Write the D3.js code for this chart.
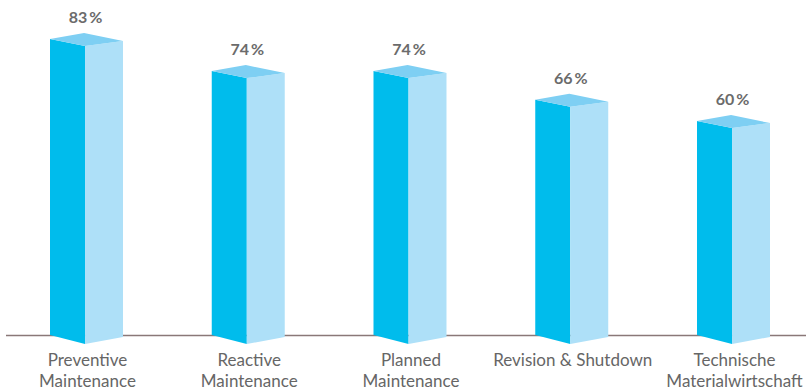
<!DOCTYPE html>
<html>
<head>
<meta charset="utf-8">
<script src="https://cdn.jsdelivr.net/npm/d3@7"></script>
<style>
  html, body { margin: 0; padding: 0; background: #fff; }
  svg { display: block; }
</style>
</head>
<body>
<svg id="chart" width="806" height="390"></svg>
<script>
// Share of respondents per maintenance area
const categories = [
  ["Preventive", "Maintenance"],
  ["Reactive", "Maintenance"],
  ["Planned", "Maintenance"],
  ["Revision & Shutdown"],
  ["Technische", "Materialwirtschaft"]
];
const values = [83, 74, 74, 66, 60];

const svg = d3.select("#chart");
const W = 806, H = 390;
const baseY = 335;

const x = d3.scaleBand()
  .domain(d3.range(categories.length))
  .range([50, 770])
  .paddingInner(0.5487)
  .paddingOuter(0);

const y = d3.scaleLinear().domain([0, 83]).range([baseY, 39]);

// Baseline
svg.append("line")
  .attr("x1", 6).attr("x2", W)
  .attr("y1", baseY + 0.5).attr("y2", baseY + 0.5)
  .attr("stroke", "#8a7878").attr("stroke-width", 1.3);

const bw = x.bandwidth();
const frontRatio = 0.48;   // share of the width taken by the left (front) face
const dip = 7, rise = 2, back = 6;

const g = svg.append("g");
values.forEach((v, i) => {
  const xl = x(i), xr = x(i) + bw, xf = x(i) + bw * frontRatio;
  const top = y(v);
  const bottom = y(0);
  // left face
  g.append("polygon")
    .attr("points", [[xl, top], [xf, top + dip], [xf, bottom + dip + 2], [xl, bottom]].join(" "))
    .attr("fill", "#00bcec");
  // right face
  g.append("polygon")
    .attr("points", [[xf, top + dip], [xr, top + rise], [xr, bottom + rise], [xf, bottom + dip + 2]].join(" "))
    .attr("fill", "#aee0f8");
  // top face
  g.append("polygon")
    .attr("points", [[xl, top], [xf - 1, top - back], [xr, top + rise], [xf, top + dip]].join(" "))
    .attr("fill", "#7ecff3");
  // value label
  g.append("text")
    .attr("x", xl + bw / 2 - 1)
    .attr("y", top - 16)
    .attr("text-anchor", "middle")
    .attr("font-family", "Lato, 'Open Sans', sans-serif")
    .attr("font-weight", "bold")
    .attr("font-size", 16)
    .attr("fill", "#6b6b6b")
    .text(v + "\u2009%");
});

// Category labels
const labels = svg.append("g")
  .attr("font-family", "Lato, 'Open Sans', sans-serif")
  .attr("font-size", 17)
  .attr("fill", "#666")
  .attr("text-anchor", "middle");
categories.forEach((lines, i) => {
  const cx = x(i) + bw / 2 + 1;
  const t = labels.append("text")
    .attr("x", cx)
    .attr("y", 366);
  lines.forEach((ln, k) => {
    t.append("tspan")
      .attr("x", cx)
      .attr("dy", k === 0 ? 0 : 21)
      .text(ln);
  });
});
</script>
</body>
</html>
